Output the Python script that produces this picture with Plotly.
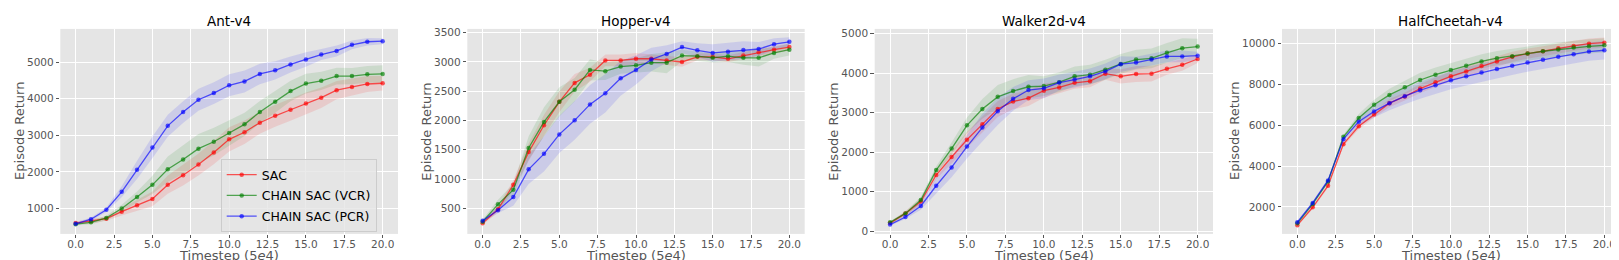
import plotly.graph_objects as go

W, H = 1619, 260

steps = list(range(21))
envs = ["Ant-v4", "Hopper-v4", "Walker2d-v4", "HalfCheetah-v4"]
series_names = ["SAC", "CHAIN SAC (VCR)", "CHAIN SAC (PCR)"]

# ---- Ant-v4 ----
ant_sac = [600, 650, 720, 910, 1090, 1260, 1650, 1910, 2200, 2530, 2890, 3085, 3345, 3535, 3700, 3870, 4030, 4235, 4325, 4405, 4425]
ant_vcr = [570, 620, 740, 1000, 1310, 1645, 2070, 2340, 2635, 2825, 3065, 3300, 3640, 3920, 4210, 4415, 4490, 4620, 4620, 4670, 4680]
ant_pcr = [580, 705, 965, 1455, 2055, 2670, 3260, 3635, 3975, 4155, 4370, 4475, 4680, 4780, 4940, 5075, 5210, 5310, 5475, 5560, 5575]
ant_sac_sd = [40, 60, 60, 100, 150, 200, 250, 280, 300, 320, 330, 320, 300, 300, 300, 300, 280, 250, 230, 220, 200]
ant_vcr_sd = [40, 50, 60, 100, 150, 250, 350, 400, 400, 380, 350, 320, 300, 300, 280, 270, 250, 230, 220, 230, 240]
ant_pcr_sd = [40, 50, 60, 150, 250, 300, 300, 300, 300, 300, 300, 300, 280, 250, 220, 200, 150, 150, 120, 100, 80]

# ---- Hopper-v4 ----
hop_sac = [243, 483, 900, 1460, 1919, 2320, 2643, 2782, 3027, 3027, 3055, 3055, 3027, 3000, 3088, 3088, 3055, 3110, 3166, 3210, 3255]
hop_vcr = [270, 567, 817, 1530, 1975, 2320, 2526, 2865, 2843, 2921, 2943, 2988, 2988, 3110, 3099, 3071, 3099, 3071, 3071, 3155, 3210]
hop_pcr = [288, 467, 693, 1165, 1430, 1763, 2003, 2275, 2465, 2721, 2865, 3043, 3138, 3255, 3199, 3155, 3177, 3205, 3222, 3305, 3344]
hop_sac_sd = [30, 50, 80, 150, 180, 180, 150, 120, 100, 100, 100, 80, 80, 80, 60, 60, 60, 60, 60, 60, 60]
hop_vcr_sd = [40, 80, 100, 200, 250, 250, 200, 180, 150, 120, 120, 150, 180, 100, 80, 80, 100, 120, 150, 100, 100]
hop_pcr_sd = [30, 50, 150, 250, 300, 320, 330, 330, 330, 300, 250, 200, 150, 100, 120, 150, 150, 150, 120, 100, 80]

# ---- Walker2d-v4 ----
wal_sac = [205, 450, 750, 1421, 1876, 2314, 2702, 3091, 3281, 3364, 3554, 3636, 3752, 3793, 3983, 3917, 3975, 3983, 4107, 4207, 4355]
wal_vcr = [225, 450, 790, 1545, 2091, 2678, 3091, 3397, 3545, 3653, 3669, 3769, 3917, 3959, 4083, 4231, 4339, 4372, 4512, 4628, 4669]
wal_pcr = [168, 360, 640, 1149, 1612, 2140, 2620, 3033, 3347, 3570, 3612, 3760, 3835, 3917, 4041, 4223, 4264, 4339, 4421, 4421, 4438]
wal_sac_sd = [30, 60, 80, 100, 150, 200, 200, 200, 200, 200, 180, 150, 150, 150, 150, 180, 200, 200, 150, 150, 100]
wal_vcr_sd = [30, 50, 80, 100, 150, 200, 250, 300, 300, 300, 250, 250, 250, 250, 250, 250, 250, 250, 250, 250, 200]
wal_pcr_sd = [30, 50, 100, 200, 250, 300, 350, 350, 300, 250, 250, 200, 200, 200, 200, 200, 150, 150, 150, 150, 100]

# ---- HalfCheetah-v4 ----
hc_sac = [1110, 1985, 3036, 5077, 5951, 6534, 7085, 7409, 7798, 8105, 8397, 8640, 8899, 9126, 9352, 9514, 9627, 9773, 9887, 10000, 10049]
hc_vcr = [1200, 2150, 3250, 5433, 6356, 7004, 7490, 7862, 8219, 8478, 8704, 8915, 9126, 9287, 9385, 9514, 9627, 9708, 9806, 9870, 9919]
hc_pcr = [1250, 2200, 3300, 5320, 6178, 6680, 7085, 7425, 7717, 7960, 8202, 8397, 8591, 8753, 8915, 9077, 9206, 9352, 9482, 9611, 9676]
hc_sac_sd = [50, 80, 100, 100, 150, 150, 200, 200, 220, 230, 240, 250, 250, 250, 250, 250, 250, 250, 250, 250, 250]
hc_vcr_sd = [50, 80, 100, 100, 200, 250, 300, 330, 350, 350, 350, 350, 350, 350, 350, 350, 350, 350, 350, 350, 350]
hc_pcr_sd = [50, 80, 100, 100, 200, 300, 350, 400, 420, 430, 440, 450, 450, 450, 450, 450, 450, 450, 450, 450, 450]

x_ticks = [0, 2.5, 5, 7.5, 10, 12.5, 15, 17.5, 20]
y_ticks = [
    [1000, 2000, 3000, 4000, 5000],
    [500, 1000, 1500, 2000, 2500, 3000, 3500],
    [0, 1000, 2000, 3000, 4000, 5000],
    [2000, 4000, 6000, 8000, 10000],
]
y_ranges = [[303, 5911], [62, 3565], [-68, 5115], [680, 10720]]

panels = [
    (ant_sac, ant_vcr, ant_pcr, ant_sac_sd, ant_vcr_sd, ant_pcr_sd),
    (hop_sac, hop_vcr, hop_pcr, hop_sac_sd, hop_vcr_sd, hop_pcr_sd),
    (wal_sac, wal_vcr, wal_pcr, wal_sac_sd, wal_vcr_sd, wal_pcr_sd),
    (hc_sac, hc_vcr, hc_pcr, hc_sac_sd, hc_vcr_sd, hc_pcr_sd),
]

line_cols = ["rgba(255,0,0,0.65)", "rgba(0,128,0,0.65)", "rgba(0,0,255,0.65)"]
fill_cols = ["rgba(255,0,0,0.11)", "rgba(0,128,0,0.11)", "rgba(0,0,255,0.11)"]

# panel pixel boxes (left, right) ; top/bottom shared
px_lr = [(52.3, 390.0), (459.3, 796.7), (866.7, 1205.0), (1274.0, 1611.7)]
px_top, px_bot = 19.3, 228.3
ytitle_x = [11.5, 418.3, 825.3, 1226.5]

fig = go.Figure()
font_family = "DejaVu Sans"

for i, p in enumerate(panels):
    means = p[:3]
    sds = p[3:]
    ax = "" if i == 0 else str(i + 1)
    xr, yr = "x" + ax, "y" + ax
    for k in range(3):
        m, s = means[k], sds[k]
        upper = [a + b for a, b in zip(m, s)]
        lower = [a - b for a, b in zip(m, s)]
        fig.add_trace(go.Scatter(
            x=steps + steps[::-1], y=upper + lower[::-1],
            fill="toself", fillcolor=fill_cols[k], line=dict(width=0),
            mode="lines", hoverinfo="skip", showlegend=False,
            xaxis=xr, yaxis=yr))
    for k in range(3):
        fig.add_trace(go.Scatter(
            x=steps, y=means[k], mode="lines+markers",
            line=dict(color=line_cols[k], width=1.3),
            marker=dict(color=line_cols[k], size=4.5),
            name=series_names[k], showlegend=(i == 0),
            legendgroup=series_names[k],
            xaxis=xr, yaxis=yr))

    l, r = px_lr[i]
    fig.layout["xaxis" + ax] = dict(
        domain=[l / W, r / W], range=[-1, 21], anchor=yr,
        tickvals=x_ticks, tickformat=".1f",
        showgrid=True, gridcolor="white", gridwidth=1, zeroline=False,
        ticks="outside", ticklen=3.5, tickcolor="#555555",
        ticklabelstandoff=-3,
        tickfont=dict(size=10.5, color="#555555", family=font_family),
        showline=False)
    fig.layout["yaxis" + ax] = dict(
        domain=[1 - px_bot / H, 1 - px_top / H], range=y_ranges[i], anchor=xr,
        tickvals=y_ticks[i], tickformat="d",
        showgrid=True, gridcolor="white", gridwidth=1, zeroline=False,
        ticks="outside", ticklen=3.5, tickcolor="#555555",
        tickfont=dict(size=10.5, color="#555555", family=font_family),
        showline=False)
    cx = (l + r) / 2 / W
    fig.add_annotation(text=envs[i], x=cx, y=1 - 11.7 / H, xref="paper", yref="paper",
                       showarrow=False, xanchor="center", yanchor="middle",
                       font=dict(size=13.5, color="black", family=font_family))
    fig.add_annotation(text="Timestep (5<i>e</i>4)", x=cx, y=1 - 250.5 / H, xref="paper", yref="paper",
                       showarrow=False, xanchor="center", yanchor="middle",
                       font=dict(size=13, color="#555555", family=font_family))
    fig.add_annotation(text="Episode Return", x=ytitle_x[i] / W, y=1 - (px_top + px_bot) / 2 / H,
                       xref="paper", yref="paper", textangle=-90,
                       showarrow=False, xanchor="center", yanchor="middle",
                       font=dict(size=13, color="#555555", family=font_family))

fig.update_layout(
    width=W, height=H,
    margin=dict(l=0, r=0, t=0, b=0),
    paper_bgcolor="white", plot_bgcolor="#E5E5E5",
    font=dict(family=font_family),
    showlegend=True,
    legend=dict(x=212.7 / W, y=1 - 152 / H, xanchor="left", yanchor="top",
                bgcolor="rgba(229,229,229,0.8)", bordercolor="#CCCCCC", borderwidth=1,
                font=dict(size=12.5, color="black", family=font_family),
                tracegroupgap=1.5, itemwidth=30),
)

fig.write_html("out.html")
